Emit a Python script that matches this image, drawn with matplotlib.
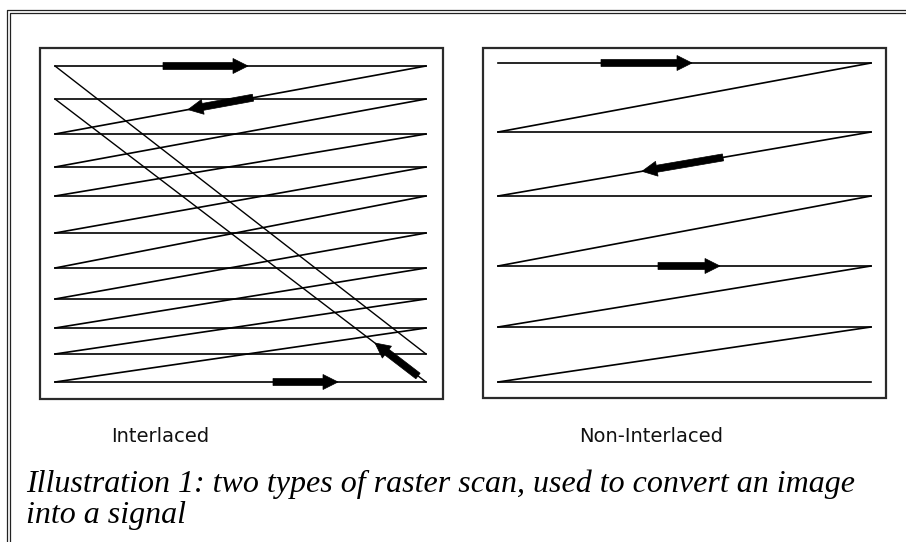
import numpy as np
import matplotlib
matplotlib.use('Agg')
import matplotlib.pyplot as plt
from matplotlib.patches import Rectangle

# scan line rows (pixel y) for each panel
interlaced_rows = [66, 99, 134, 167, 196, 233, 268, 299, 328, 354, 382]
interlaced_x = (55, 426)
progressive_rows = [63, 132, 196, 266, 327, 382]
progressive_x = (498, 871)

# direction arrows: (tail x, tail y, head x, head y)
interlaced_arrows = [(163, 66, 248, 66), (253, 97.7, 188, 109.6),
                     (273, 382, 338, 382), (418, 376, 375, 343)]
progressive_arrows = [(601, 63, 692, 63), (723, 157.4, 642, 171.3),
                      (658, 266, 720, 266)]

labels = ['Interlaced', 'Non-Interlaced']
caption = ['Illustration 1: two types of raster scan, used to convert an image',
           'into a signal']

fig = plt.figure(figsize=(9.06, 5.42), dpi=100)
ax = fig.add_axes([0, 0, 1, 1])
ax.set_xlim(0, 906)
ax.set_ylim(542, 0)
ax.axis('off')

# double frame around the figure
ax.plot([7, 7, 906], [542, 10, 10], color='#222222', lw=0.9)
ax.plot([9.5, 9.5, 906], [542, 12.5, 12.5], color='#222222', lw=0.9)

# panel boxes
ax.add_patch(Rectangle((40, 48), 403, 351, fill=False, ec='#2a2a2a', lw=1.6))
ax.add_patch(Rectangle((483, 48), 403, 350, fill=False, ec='#2a2a2a', lw=1.6))

lw = 1.2
# interlaced: horizontal lines, retrace to row i+2, and field return diagonals
x0, x1 = interlaced_x
for y in interlaced_rows:
    ax.plot([x0, x1], [y, y], color='black', lw=lw)
for i in range(len(interlaced_rows) - 2):
    ax.plot([x1, x0], [interlaced_rows[i], interlaced_rows[i + 2]], color='black', lw=lw)
ax.plot([x0, x1], [interlaced_rows[0], interlaced_rows[-2]], color='black', lw=1.0)
ax.plot([x0, x1], [interlaced_rows[1], interlaced_rows[-1]], color='black', lw=1.0)

# non-interlaced: horizontal lines and retrace to next row
x0, x1 = progressive_x
for y in progressive_rows:
    ax.plot([x0, x1], [y, y], color='black', lw=lw)
for i in range(len(progressive_rows) - 1):
    ax.plot([x1, x0], [progressive_rows[i], progressive_rows[i + 1]], color='black', lw=lw)

for tx, ty, hx, hy in interlaced_arrows + progressive_arrows:
    ax.arrow(tx, ty, hx - tx, hy - ty, width=7, head_width=15, head_length=15,
             length_includes_head=True, fc='black', ec='black', lw=0.5)

ax.text(160, 442, labels[0], ha='center', va='baseline', fontsize=14,
        family='DejaVu Sans', color='#111111')
ax.text(651, 442, labels[1], ha='center', va='baseline', fontsize=14,
        family='DejaVu Sans', color='#111111')

ax.text(26, 492, caption[0], ha='left', va='baseline', fontsize=23,
        family='Liberation Serif', style='italic', color='black')
ax.text(26, 523, caption[1], ha='left', va='baseline', fontsize=23,
        family='Liberation Serif', style='italic', color='black')

fig.savefig('out.png', dpi=100)
